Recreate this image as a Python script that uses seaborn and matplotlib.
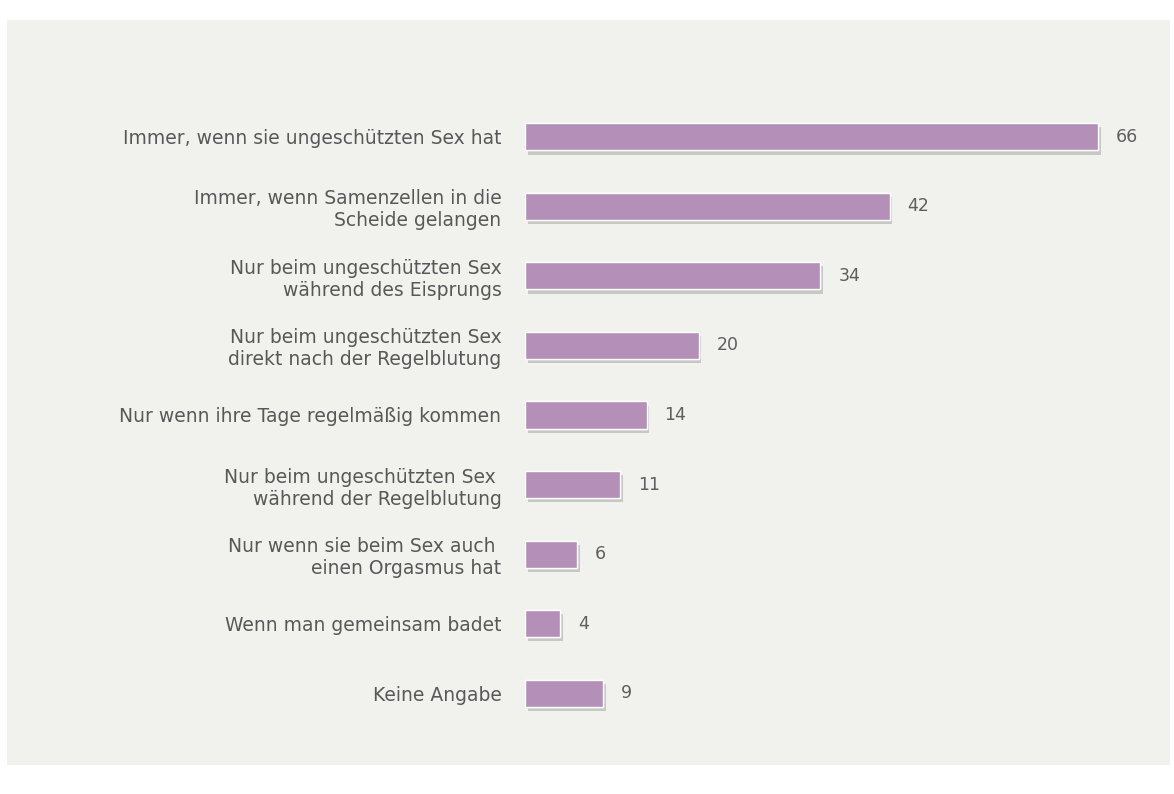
import matplotlib
matplotlib.use("Agg")
import matplotlib.pyplot as plt
import matplotlib.patheffects as pe
from matplotlib.patches import Rectangle
import seaborn as sns
import pandas as pd

categories = [
    "Immer, wenn sie ungeschützten Sex hat",
    "Immer, wenn Samenzellen in die\nScheide gelangen",
    "Nur beim ungeschützten Sex\nwährend des Eisprungs",
    "Nur beim ungeschützten Sex\ndirekt nach der Regelblutung",
    "Nur wenn ihre Tage regelmäßig kommen",
    "Nur beim ungeschützten Sex \nwährend der Regelblutung",
    "Nur wenn sie beim Sex auch \neinen Orgasmus hat",
    "Wenn man gemeinsam badet",
    "Keine Angabe",
]
values = [66, 42, 34, 20, 14, 11, 6, 4, 9]

df = pd.DataFrame({"antwort": categories, "prozent": values})

sns.set_theme(style="white")
plt.rcParams["font.family"] = ["DejaVu Sans"]

W, H = 1174, 794
fig = plt.figure(figsize=(W / 100, H / 100), dpi=100)
fig.patch.set_facecolor("white")

# light paper panel behind the chart
fig.patches.append(Rectangle((7 / W, 1 - 765 / H), (1170 - 7) / W, (765 - 20) / H,
                             transform=fig.transFigure, facecolor="#f1f1ee",
                             edgecolor="none", zorder=-5))

ax = fig.add_axes([525 / W, 1 - 728 / H, (1170 - 525) / W, 626 / H])
ax.set_facecolor("none")
ax.set_zorder(2)

bar_color = "#b48fb7"
sns.barplot(data=df, x="prozent", y="antwort", orient="h", color=bar_color,
            width=0.39, saturation=1, ax=ax)

for patch in ax.patches:
    patch.set_path_effects([pe.withSimplePatchShadow(offset=(2, -3), shadow_rgbFace="#7a7a7a",
                                                    alpha=0.35), pe.Normal()])

ax.bar_label(ax.containers[0], labels=[str(v) for v in values], padding=13,
             fontsize=12.5, color="#5e5e5e")

ax.set_xlim(0, 74.3)
ax.set_xlabel("")
ax.set_ylabel("")
ax.set_xticks([])
ax.tick_params(axis="y", length=0, pad=17)
for lbl in ax.get_yticklabels():
    lbl.set_fontsize(13.5)
    lbl.set_color("#585858")
    lbl.set_linespacing(1.2)
    lbl.set_multialignment("right")
sns.despine(ax=ax, left=True, bottom=True)

fig.savefig("out.png", dpi=100, facecolor=fig.get_facecolor())
